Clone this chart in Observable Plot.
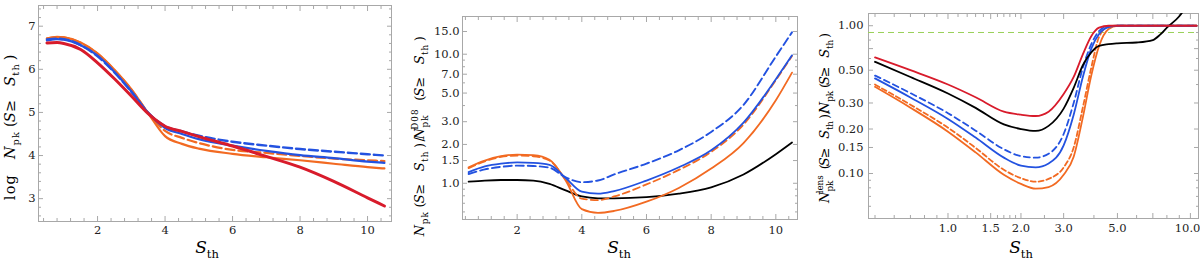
<!DOCTYPE html>
<html><head><meta charset="utf-8">
<script src="https://cdn.jsdelivr.net/npm/d3@7"></script>
<script src="https://cdn.jsdelivr.net/npm/@observablehq/plot@0.6"></script>
<style>
body{margin:0;background:#fff;}
#wrap{display:flex;width:1200px;height:261px;overflow:hidden;}
#wrap > div{width:400px;height:261px;position:relative;}
#wrap svg{display:block;font-family:"DejaVu Serif","Liberation Serif",serif !important;}
#wrap svg text{white-space:pre;}
</style></head><body>
<div id="wrap"><div id="p1"></div><div id="p2"></div><div id="p3"></div></div>
<script>
// ---------- DATA ----------
// Panel 1: log N_pk(S >= S_th)
const p1S            = [0.5, 0.8, 1, 1.5, 2, 2.5, 3, 3.5, 4, 4.5, 5, 6, 7, 8, 9, 10, 10.5];
const p1Red          = [6.61, 6.62, 6.60, 6.46, 6.15, 5.78, 5.38, 4.97, 4.68, 4.56, 4.44, 4.22, 3.98, 3.73, 3.40, 3.02, 2.83];
const p1BlueSolid    = [6.67, 6.70, 6.69, 6.56, 6.32, 5.94, 5.49, 4.99, 4.64, 4.50, 4.38, 4.23, 4.11, 4.01, 3.94, 3.86, 3.83];
const p1BlueDashed   = [6.69, 6.71, 6.70, 6.56, 6.30, 5.93, 5.48, 4.99, 4.68, 4.56, 4.46, 4.32, 4.23, 4.15, 4.09, 4.03, 4.00];
const p1OrangeSolid  = [6.71, 6.75, 6.74, 6.62, 6.37, 5.99, 5.54, 4.98, 4.45, 4.27, 4.16, 4.04, 3.96, 3.89, 3.81, 3.73, 3.70];
const p1OrangeDashed = [6.72, 6.75, 6.74, 6.61, 6.36, 5.98, 5.53, 4.99, 4.57, 4.41, 4.29, 4.13, 4.06, 3.99, 3.93, 3.89, 3.87];

// Panel 2: N_pk / N_pk^D08
const p2S            = [0.5, 1, 1.5, 2, 2.5, 3, 3.5, 4, 4.5, 5, 6, 7, 8, 9, 10, 10.5];
const p2Black        = [1.03, 1.05, 1.06, 1.06, 1.05, 0.99, 0.88, 0.79, 0.765, 0.765, 0.78, 0.83, 0.93, 1.17, 1.68, 2.07];
const p2BlueSolid    = [1.22, 1.35, 1.42, 1.45, 1.44, 1.39, 1.10, 0.86, 0.83, 0.87, 1.05, 1.33, 1.80, 2.95, 6.4, 9.8];
const p2BlueDashed   = [1.18, 1.28, 1.34, 1.37, 1.36, 1.32, 1.11, 1.02, 1.05, 1.17, 1.42, 1.80, 2.5, 4.05, 9.6, 14.8];
const p2OrangeSolid  = [1.33, 1.50, 1.62, 1.67, 1.65, 1.52, 1.05, 0.63, 0.59, 0.61, 0.72, 0.92, 1.30, 2.05, 4.4, 7.2];
const p2OrangeDashed = [1.31, 1.48, 1.60, 1.64, 1.62, 1.50, 1.07, 0.76, 0.74, 0.79, 0.98, 1.27, 1.75, 2.85, 6.3, 9.7];

// Panel 3: N_pk^lens / N_pk
const p3S            = [0.5, 0.7, 1.0, 1.3, 1.7, 2.0, 2.3, 2.6, 3.0, 3.3, 3.6, 3.9, 4.2, 4.6, 5.0, 6.0, 7.0, 7.5, 8.0, 9.0, 10.0, 10.6];
const p3Red          = [0.61, 0.50, 0.40, 0.328, 0.262, 0.25, 0.245, 0.262, 0.345, 0.45, 0.64, 0.85, 0.97, 1.0, 1.0, 1.0, 1.0, 1.0, 1.0, 1.0, 1.0, 1.0];
const p3Black        = [0.57, 0.45, 0.348, 0.278, 0.215, 0.20, 0.194, 0.21, 0.275, 0.38, 0.54, 0.66, 0.73, 0.75, 0.76, 0.77, 0.80, 0.87, 0.97, 1.16, 1.5, 1.8];
const p3BlueDashed   = [0.46, 0.35, 0.256, 0.195, 0.146, 0.131, 0.128, 0.136, 0.185, 0.30, 0.52, 0.75, 0.92, 0.995, 1.0, 1.0, 1.0, 1.0, 1.0, 1.0, 1.0, 1.0];
const p3BlueSolid    = [0.44, 0.327, 0.234, 0.175, 0.128, 0.113, 0.11, 0.117, 0.155, 0.25, 0.45, 0.70, 0.88, 0.98, 1.0, 1.0, 1.0, 1.0, 1.0, 1.0, 1.0, 1.0];
const p3OrangeDashed = [0.40, 0.292, 0.204, 0.149, 0.106, 0.093, 0.088, 0.092, 0.11, 0.15, 0.28, 0.52, 0.84, 0.99, 1.0, 1.0, 1.0, 1.0, 1.0, 1.0, 1.0, 1.0];
const p3OrangeSolid  = [0.386, 0.279, 0.192, 0.139, 0.098, 0.085, 0.079, 0.081, 0.098, 0.13, 0.24, 0.46, 0.73, 0.95, 1.0, 1.0, 1.0, 1.0, 1.0, 1.0, 1.0, 1.0];
const p3Threshold    = [0.9];

// Tick labels
const p1XTicks = [2, 4, 6, 8, 10];
const p1YTicks = [3, 4, 5, 6, 7];
const p2XTicks = [2, 4, 6, 8, 10];
const p2YTicks = [1.0, 1.5, 2.0, 3.0, 5.0, 7.0, 10.0, 15.0];
const p2YMinor = [0.6, 0.7, 0.8, 0.9, 4, 6, 8, 9];
const p3XTicks = [1.0, 1.5, 2.0, 3.0, 5.0, 7.0];
const p3XLastTick = [10.0];
const p3XMinor = [0.5, 0.6, 0.7, 0.8, 0.9, 1.1, 1.2, 1.3, 1.4, 1.6, 1.7, 1.8, 1.9, 2.5, 4, 6, 8, 9];
const p3YTicks = [0.10, 0.15, 0.20, 0.30, 0.50, 0.70, 1.00];
const p3YMinor = [0.06, 0.07, 0.08, 0.09, 0.4, 0.6, 0.8, 0.9];

// ---------- STYLE ----------
const RED = "#d81b2b", BLUE = "#2352e0", ORANGE = "#f26a22", BLACK = "#000", GREEN = "#9ad15a";
const FRAME = "#a8a8a8", TXT = "#222";
const FONT = "'DejaVu Serif','Liberation Serif',serif";

function rows(xs, ys) { return xs.map((x, i) => ({x, y: ys[i]})); }
function line(xs, ys, stroke, w, dash) {
  return Plot.line(rows(xs, ys), {x: "x", y: "y", stroke, strokeWidth: w, strokeDasharray: dash, curve: "monotone-x", clip: true});
}
function linMinor(lo, hi, step, major) {
  return d3.range(Math.round(lo / step), Math.round(hi / step) + 1).map(k => +(k * step).toFixed(4)).filter(v => !major.includes(v));
}
function frameTicks(xMaj, xMin, yMaj, yMin) {
  const o = {stroke: FRAME, fill: "none", label: null};
  return [
    Plot.axisX({...o, ticks: xMaj, anchor: "bottom", tickSize: 5, dy: -5}),
    Plot.axisX({...o, ticks: xMin, anchor: "bottom", tickSize: 3, dy: -3}),
    Plot.axisX({...o, ticks: xMaj, anchor: "top", tickSize: 5, dy: 5}),
    Plot.axisX({...o, ticks: xMin, anchor: "top", tickSize: 3, dy: 3}),
    Plot.axisY({...o, ticks: yMaj, anchor: "left", tickSize: 5, dx: 5}),
    Plot.axisY({...o, ticks: yMin, anchor: "left", tickSize: 3, dx: 3}),
    Plot.axisY({...o, ticks: yMaj, anchor: "right", tickSize: 5, dx: -5}),
    Plot.axisY({...o, ticks: yMin, anchor: "right", tickSize: 3, dx: -3})
  ];
}
function tickText(xMaj, yMaj, xFmt, yFmt, xPad, yPad) {
  return [
    Plot.axisX({ticks: xMaj, anchor: "bottom", tickSize: 0, tickPadding: xPad, tickFormat: xFmt, fill: TXT, label: null}),
    Plot.axisY({ticks: yMaj, anchor: "left", tickSize: 0, tickPadding: yPad, tickFormat: yFmt, fill: TXT, label: null})
  ];
}
const baseStyle = {fontFamily: FONT, fontSize: "11.5px", background: "#fff", color: TXT, overflow: "visible"};

// Rich label helper (sub/superscripts as real text), stretched to a target length
function richLabel(svg, cx, cy, rotate, pieces, size, target) {
  const g = d3.select(svg).append("g").attr("transform", `translate(${cx},${cy}) rotate(${rotate})`)
    .attr("font-family", FONT).attr("fill", BLACK);
  const items = pieces.map(p => {
    const small = p.sub || p.sup;
    const fs = small ? size * 0.68 : size;
    const dy = p.sub ? size * 0.3 : p.sup ? -size * 0.45 : 0;
    const t = g.append("text").attr("x", 0).attr("y", dy).attr("font-size", fs)
      .attr("font-style", p.it ? "italic" : null).text(p.t);
    return {p, t, w: t.node().getComputedTextLength(), n: p.t.length};
  });
  function layout(ls) {
    let x = 0, prevStart = 0;
    for (const it of items) {
      const w = it.w + it.n * ls;
      const sx = it.p.stack ? prevStart + size * 0.14 : x;
      it.sx = sx;
      if (it.p.stack) x = Math.max(x, sx + w); else { prevStart = sx; x = sx + w; }
    }
    return x;
  }
  let ls = 0, L = layout(0);
  if (target) {
    const n = items.filter(it => !it.p.stack).reduce((a, it) => a + it.n, 0);
    ls = Math.max(-0.5, Math.min(1.2, (target - L) / n));
    L = layout(ls);
  }
  items.forEach(it => it.t.attr("x", it.sx - L / 2).attr("letter-spacing", ls));
}
const SGE = [{t: "("}, {t: "S", it: true}, {t: "\u00a0\u2265\u00a0"}, {t: "S", it: true}, {t: "th", sub: true}, {t: ")"}];
const XLAB = [{t: "S", it: true}, {t: "th", sub: true}];

// ---------- PANEL 1 ----------
const svg1 = Plot.plot({
  width: 400, height: 261, marginLeft: 38, marginRight: 9, marginTop: 5, marginBottom: 40,
  style: baseStyle,
  x: {domain: [0.25, 10.71], axis: null},
  y: {domain: [2.47, 7.48], axis: null},
  marks: [
    Plot.frame({stroke: FRAME}),
    ...frameTicks(p1XTicks, linMinor(0.4, 10.4, 0.4, p1XTicks), p1YTicks, linMinor(2.6, 7.4, 0.2, p1YTicks)),
    ...tickText(p1XTicks, p1YTicks, d => String(d), d => String(d), 4, 3),
    line(p1S, p1OrangeSolid, ORANGE, 2.2),
    line(p1S, p1OrangeDashed, ORANGE, 2.2, "9,4"),
    line(p1S, p1BlueSolid, BLUE, 2.2),
    line(p1S, p1BlueDashed, BLUE, 2.4, "9,4"),
    line(p1S, p1Red, RED, 3)
  ]
});
document.getElementById("p1").appendChild(svg1);
richLabel(svg1, 15, 117, -90, [{t: "log\u00a0"}, {t: "N", it: true}, {t: "pk", sub: true}, ...SGE], 14.5, 141);
richLabel(svg1, 213, 253, 0, XLAB, 17);

// ---------- PANEL 2 ----------
const svg2 = Plot.plot({
  width: 400, height: 261, marginLeft: 62, marginRight: 3, marginTop: 16, marginBottom: 42,
  style: baseStyle,
  x: {domain: [0.31, 10.67], axis: null},
  y: {type: "log", domain: [0.524, 19.6], axis: null},
  marks: [
    Plot.frame({stroke: FRAME}),
    ...frameTicks(p2XTicks, linMinor(0.4, 10.4, 0.4, p2XTicks), p2YTicks, p2YMinor),
    ...tickText(p2XTicks, p2YTicks, d => String(d), d => d.toFixed(1), 6, 3),
    line(p2S, p2Black, BLACK, 1.8),
    line(p2S, p2OrangeSolid, ORANGE, 1.8),
    line(p2S, p2OrangeDashed, ORANGE, 1.8, "7,4"),
    line(p2S, p2BlueSolid, BLUE, 1.8),
    line(p2S, p2BlueDashed, BLUE, 1.9, "8,4")
  ]
});
document.getElementById("p2").appendChild(svg2);
richLabel(svg2, 24, 131, -90, [{t: "N", it: true}, {t: "pk", sub: true}, ...SGE, {t: "/"},
  {t: "N", it: true}, {t: "pk", sub: true}, {t: "D08", sup: true, stack: true}, ...SGE], 13, 197);
richLabel(svg2, 225, 253, 0, XLAB, 17);

// ---------- PANEL 3 ----------
const svg3 = Plot.plot({
  width: 400, height: 261, marginLeft: 68, marginRight: 2, marginTop: 13, marginBottom: 43,
  style: baseStyle,
  x: {type: "log", domain: [0.47, 10.8], axis: null},
  y: {type: "log", domain: [0.0496, 1.21], axis: null},
  marks: [
    Plot.frame({stroke: FRAME}),
    ...frameTicks(p3XTicks.concat(p3XLastTick), p3XMinor, p3YTicks, p3YMinor),
    ...tickText(p3XTicks, p3YTicks, d => d.toFixed(1), d => d.toFixed(2), 5, 5),
    Plot.text(p3XLastTick, {x: d => d, frameAnchor: "bottom", lineAnchor: "top", dy: 5, dx: 10, textAnchor: "end", text: d => d.toFixed(1), fill: TXT}),
    Plot.ruleY(p3Threshold, {stroke: GREEN, strokeWidth: 1, strokeDasharray: "6,4"}),
    line(p3S, p3OrangeSolid, ORANGE, 1.8),
    line(p3S, p3OrangeDashed, ORANGE, 1.8, "5,3"),
    line(p3S, p3BlueSolid, BLUE, 1.8),
    line(p3S, p3BlueDashed, BLUE, 1.8, "6,4"),
    line(p3S, p3Black, BLACK, 1.8),
    line(p3S, p3Red, RED, 1.8)
  ]
});
document.getElementById("p3").appendChild(svg3);
richLabel(svg3, 29, 114, -90, [{t: "N", it: true}, {t: "pk", sub: true}, {t: "lens", sup: true, stack: true}, ...SGE, {t: "/"},
  {t: "N", it: true}, {t: "pk", sub: true}, ...SGE], 13, 167);
richLabel(svg3, 227, 253, 0, XLAB, 17);
</script>
</body></html>
